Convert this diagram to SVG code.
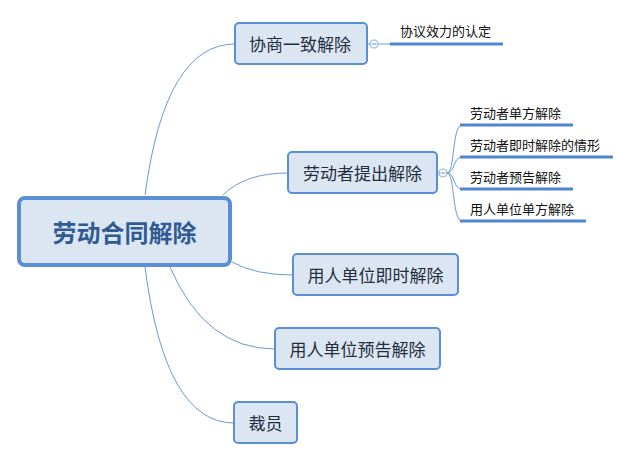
<svg xmlns="http://www.w3.org/2000/svg" width="630" height="460" viewBox="0 0 630 460">
<style>
.node{fill:#dce6f2;stroke:#5b8fd5;stroke-width:2}
.t{font-family:"Noto Sans CJK SC","Liberation Sans",sans-serif;fill:#1f2d3d;text-anchor:middle;dominant-baseline:central;font-size:17px}
.st{font-family:"Noto Sans CJK SC","Liberation Sans",sans-serif;fill:#111;font-size:13px}
.c{fill:none;stroke:#6a98d8;stroke-width:1}
.ul{stroke:#4f86d0;stroke-width:3}
.dot{fill:#fff;stroke:#8fb2e2;stroke-width:1.2}
</style>
<rect width="630" height="460" fill="#fff"/>
<g id="connectors">
<path class="c" d="M145 195 Q165 44 235 44"/>
<path class="c" d="M223 195 Q245 173 288 173"/>
<path class="c" d="M232 262 Q255 275 293 275"/>
<path class="c" d="M170 267 Q205 349 275 349"/>
<path class="c" d="M145 267 Q165 423 234 423"/>
<path class="c" d="M367 44 L370 44"/>
<path class="c" d="M378 44 L390 44"/>
<path class="c" d="M437 173 L439 173"/>
<path class="c" d="M447 173 C455 173 452 125 462 125"/>
<path class="c" d="M447 173 C455 173 453 157 462 157"/>
<path class="c" d="M447 173 C455 173 453 189 462 189"/>
<path class="c" d="M447 173 C455 173 452 221 462 221"/>
</g>
<g id="root">
<rect x="19" y="198" width="211" height="67" rx="6" fill="#dce6f2" stroke="#5b8fd5" stroke-width="4"/>
<text class="t" x="124.5" y="231.5" style="font-size:24px;font-weight:bold;fill:#2f5b92">劳动合同解除</text>
</g>
<g id="n1">
<rect class="node" x="235" y="23" width="132" height="41" rx="4"/>
<text class="t" x="300" y="43.5">协商一致解除</text>
<circle class="dot" cx="374" cy="44" r="4"/>
<line class="c" x1="371.5" y1="44" x2="376.5" y2="44"/>
</g>
<g id="n1a">
<line class="ul" x1="390" y1="44" x2="503" y2="44"/>
<text class="st" x="400" y="36">协议效力的认定</text>
</g>
<g id="n2">
<rect class="node" x="288" y="152" width="149" height="41" rx="4"/>
<text class="t" x="362.5" y="172.5">劳动者提出解除</text>
<circle class="dot" cx="443" cy="173" r="4"/>
<line class="c" x1="440.5" y1="173" x2="445.5" y2="173"/>
</g>
<g id="n2a">
<line class="ul" x1="460" y1="125" x2="573" y2="125"/>
<text class="st" x="470" y="118">劳动者单方解除</text>
</g>
<g id="n2b">
<line class="ul" x1="460" y1="157" x2="613" y2="157"/>
<text class="st" x="470" y="150">劳动者即时解除的情形</text>
</g>
<g id="n2c">
<line class="ul" x1="460" y1="189" x2="573" y2="189"/>
<text class="st" x="470" y="182">劳动者预告解除</text>
</g>
<g id="n2d">
<line class="ul" x1="460" y1="221" x2="586" y2="221"/>
<text class="st" x="470" y="214">用人单位单方解除</text>
</g>
<g id="n3">
<rect class="node" x="293" y="254" width="165" height="41" rx="4"/>
<text class="t" x="375.5" y="274.5">用人单位即时解除</text>
</g>
<g id="n4">
<rect class="node" x="275" y="328" width="165" height="41" rx="4"/>
<text class="t" x="357.5" y="348.5">用人单位预告解除</text>
</g>
<g id="n5">
<rect class="node" x="234" y="402" width="63" height="41" rx="4"/>
<text class="t" x="265.5" y="422.5">裁员</text>
</g>
</svg>
